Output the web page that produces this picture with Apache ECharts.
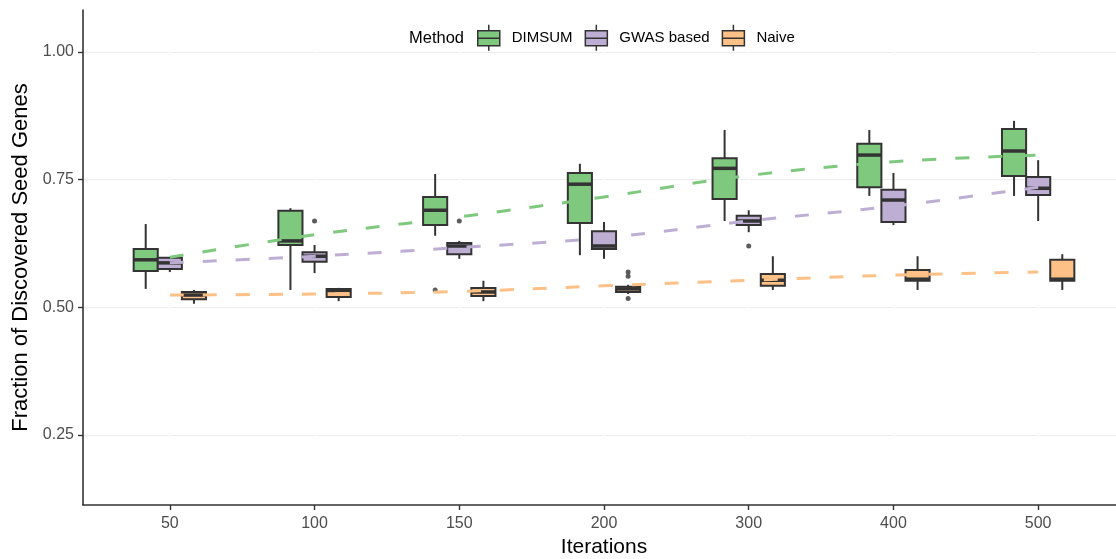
<!DOCTYPE html>
<html>
<head>
<meta charset="utf-8">
<script src="https://cdn.jsdelivr.net/npm/echarts@6/dist/echarts.min.js"></script>
<style>
  html, body { margin: 0; padding: 0; background: #ffffff; }
  #chart { width: 1116px; height: 559px; }
</style>
</head>
<body>
<div id="chart"></div>
<script>
// Iteration counts shown on the x axis
const iterations = ['50', '100', '150', '200', '300', '400', '500'];
const methods = ['DIMSUM', 'GWAS based', 'Naive'];
const methodColors = ['#7FC97F', '#BEAED4', '#FDC086'];
const yTicks = [0.25, 0.5, 0.75, 1.0];

// Five-number summaries per iteration: [lower whisker, Q1, median, Q3, upper whisker]
const dimsumBoxes = [
  [0.536, 0.571, 0.593, 0.614, 0.663],
  [0.534, 0.622, 0.630, 0.689, 0.694],
  [0.640, 0.661, 0.690, 0.716, 0.761],
  [0.602, 0.665, 0.741, 0.763, 0.781],
  [0.669, 0.712, 0.772, 0.792, 0.847],
  [0.718, 0.735, 0.798, 0.820, 0.847],
  [0.718, 0.757, 0.806, 0.849, 0.865]
];
const gwasBoxes = [
  [0.569, 0.575, 0.587, 0.597, 0.598],
  [0.567, 0.589, 0.600, 0.608, 0.622],
  [0.595, 0.604, 0.620, 0.626, 0.630],
  [0.595, 0.614, 0.620, 0.649, 0.667],
  [0.647, 0.661, 0.669, 0.679, 0.690],
  [0.661, 0.667, 0.710, 0.730, 0.763],
  [0.669, 0.720, 0.733, 0.755, 0.788]
];
const naiveBoxes = [
  [0.507, 0.516, 0.524, 0.530, 0.534],
  [0.512, 0.520, 0.533, 0.536, 0.538],
  [0.512, 0.522, 0.530, 0.538, 0.552],
  [0.526, 0.530, 0.536, 0.540, 0.544],
  [0.534, 0.542, 0.553, 0.565, 0.600],
  [0.534, 0.552, 0.555, 0.573, 0.600],
  [0.534, 0.552, 0.555, 0.593, 0.604]
];

// Outlying runs: [iteration index, value]
const dimsumOutliers = [[2, 0.534]];
const gwasOutliers = [[1, 0.669], [2, 0.669], [4, 0.620]];
const naiveOutliers = [[3, 0.569], [3, 0.561], [3, 0.517]];

// Smoothed trend of each method across iterations
const dimsumTrend = [0.598, 0.642, 0.677, 0.716, 0.758, 0.785, 0.798];
const gwasTrend = [0.587, 0.600, 0.617, 0.636, 0.669, 0.698, 0.735];
const naiveTrend = [0.524, 0.526, 0.531, 0.542, 0.553, 0.563, 0.569];

const boxSets = [dimsumBoxes, gwasBoxes, naiveBoxes];
const outlierSets = [dimsumOutliers, gwasOutliers, naiveOutliers];
const trendSets = [dimsumTrend, gwasTrend, naiveTrend];

const DODGE = 1 / 6;      // horizontal shift between the three boxes of a group
const BOX_W = 1 / 6;      // box width in category units
const INK = '#333333';
const positions = iterations.map((_, i) => i + 1);

function boxRenderer(offset, color) {
  return function (params, api) {
    const x = api.value(0) + offset;
    const lo = api.coord([x, api.value(1)]);
    const q1 = api.coord([x, api.value(2)]);
    const md = api.coord([x, api.value(3)]);
    const q3 = api.coord([x, api.value(4)]);
    const hi = api.coord([x, api.value(5)]);
    const half = api.size([BOX_W, 0])[0] / 2;
    const cx = lo[0];
    return {
      type: 'group',
      children: [
        { type: 'line', shape: { x1: cx, y1: lo[1], x2: cx, y2: q1[1] },
          style: { stroke: INK, lineWidth: 2 } },
        { type: 'line', shape: { x1: cx, y1: q3[1], x2: cx, y2: hi[1] },
          style: { stroke: INK, lineWidth: 2 } },
        { type: 'rect', shape: { x: cx - half, y: q3[1], width: 2 * half, height: q1[1] - q3[1] },
          style: { fill: color, stroke: INK, lineWidth: 2 } },
        { type: 'line', shape: { x1: cx - half, y1: md[1], x2: cx + half, y2: md[1] },
          style: { stroke: INK, lineWidth: 3.5 } }
      ]
    };
  };
}

const series = [];
methods.forEach((name, m) => {
  const offset = (m - 1) * DODGE;
  series.push({
    name: name,
    type: 'custom',
    renderItem: boxRenderer(offset, methodColors[m]),
    itemStyle: { color: methodColors[m] },
    encode: { x: 0, y: [1, 2, 3, 4, 5] },
    data: boxSets[m].map((b, i) => [positions[i]].concat(b)),
    z: 2
  });
  series.push({
    name: name,
    type: 'scatter',
    symbolSize: 5,
    itemStyle: { color: INK },
    data: outlierSets[m].map(o => [positions[o[0]] + offset, o[1]]),
    z: 3
  });
});
methods.forEach((name, m) => {
  series.push({
    name: name,
    type: 'line',
    smooth: 0.35,
    symbol: 'none',
    lineStyle: { color: methodColors[m], width: 3, type: [14, 19] },
    data: trendSets[m].map((v, i) => [positions[i], v]),
    z: 4
  });
});

const boxIcon = 'path://M12,0V6M1,6H23V21H1ZM1,13.5H23M12,21V26';

const chart = echarts.init(document.getElementById('chart'), null, { renderer: 'canvas' });
chart.setOption({
  animation: false,
  backgroundColor: '#ffffff',
  textStyle: { fontFamily: 'Liberation Sans, Arial, sans-serif' },
  title: {
    text: 'Method',
    left: 409,
    top: 30,
    textStyle: { fontSize: 16.5, fontWeight: 'normal', color: '#000000',
                 fontFamily: 'Liberation Sans, Arial, sans-serif' },
    padding: 0
  },
  legend: {
    left: 477,
    top: 24,
    padding: 0,
    itemWidth: 24,
    itemHeight: 26,
    itemGap: 12,
    selectedMode: false,
    textStyle: { fontSize: 15, color: '#000000', padding: [0, 0, 0, 6] },
    data: methods.map((name, m) => ({
      name: name,
      icon: boxIcon,
      itemStyle: { color: methodColors[m], borderColor: INK, borderWidth: 1.5 }
    }))
  },
  grid: { left: 83, top: 10, width: 1042, height: 495, containLabel: false, outerBoundsMode: 'none' },
  xAxis: {
    type: 'value',
    min: 0.4,
    max: 7.6,
    z: 1,
    name: 'Iterations',
    nameLocation: 'middle',
    nameGap: 30,
    nameTextStyle: { fontSize: 21, color: '#000000' },
    axisLine: { show: true, lineStyle: { color: INK, width: 1.6 } },
    axisTick: { show: true, length: 5, customValues: positions, lineStyle: { color: INK, width: 1.4 } },
    axisLabel: {
      customValues: positions,
      fontSize: 16,
      color: '#4D4D4D',
      margin: 11,
      formatter: v => iterations[Math.round(v) - 1]
    },
    splitLine: { show: true, lineStyle: { color: '#ffffff', width: 2 } }
  },
  yAxis: {
    type: 'value',
    min: 0.113,
    max: 1.082,
    name: 'Fraction of Discovered Seed Genes',
    nameLocation: 'middle',
    nameGap: 50,
    nameTextStyle: { fontSize: 22, color: '#000000' },
    axisLine: { show: true, lineStyle: { color: INK, width: 1.6 } },
    axisTick: { show: true, length: 5, customValues: yTicks, lineStyle: { color: INK, width: 1.4 } },
    axisLabel: {
      customValues: yTicks,
      fontSize: 16,
      color: '#4D4D4D',
      margin: 9,
      formatter: v => v.toFixed(2)
    },
    splitLine: { show: true, lineStyle: { color: '#EBEBEB', width: 1.2 } }
  },
  series: series
});
</script>
</body>
</html>
